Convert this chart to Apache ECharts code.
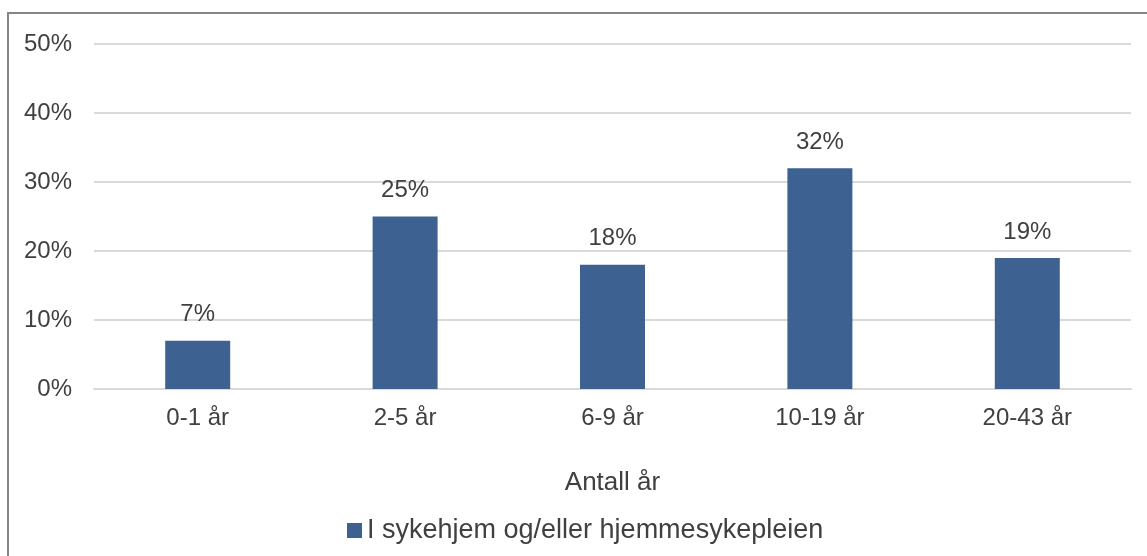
<!DOCTYPE html>
<html><head><meta charset="utf-8">
<script src="https://cdn.jsdelivr.net/npm/echarts@6/dist/echarts.min.js"></script>
<style>html,body{margin:0;padding:0;background:#fff}#c{width:1147px;height:556px}</style>
</head><body><div id="c"></div>
<script>
const categories = ['0-1 år', '2-5 år', '6-9 år', '10-19 år', '20-43 år'];
const values = [7, 25, 18, 32, 19];
const seriesName = 'I sykehjem og/eller hjemmesykepleien';
const axisName = 'Antall år';

const chart = echarts.init(document.getElementById('c'));
chart.setOption({
  animation: false,
  textStyle: { fontFamily: 'Liberation Sans, Arial, sans-serif' },
  graphic: [{
    type: 'rect', shape: { x: 8, y: 13, width: 1200, height: 600 },
    style: { fill: 'none', stroke: '#868686', lineWidth: 2 }, silent: true
  }],
  grid: { left: 94, right: 16, top: 44, bottom: 167 },
  legend: {
    data: [seriesName], left: 342, top: 512, itemWidth: 15, itemHeight: 15, itemGap: 6,
    icon: 'rect', textStyle: { fontSize: 27, color: '#404040', fontFamily: 'Liberation Sans, Arial, sans-serif' }
  },
  xAxis: {
    type: 'category', data: categories,
    name: axisName, nameLocation: 'middle', nameGap: 81,
    nameTextStyle: { fontSize: 26, color: '#404040' },
    axisLine: { show: true, lineStyle: { color: '#d9d9d9', width: 2 } },
    axisTick: { show: false },
    axisLabel: { fontSize: 24, color: '#404040', margin: 17 }
  },
  yAxis: {
    type: 'value', min: 0, max: 50, interval: 10,
    axisLabel: { formatter: '{value}%', fontSize: 24, color: '#404040', margin: 22 },
    axisLine: { show: false }, axisTick: { show: false },
    splitLine: { lineStyle: { color: '#d9d9d9', width: 2 } }
  },
  series: [{
    name: seriesName, type: 'bar', data: values, barWidth: 65,
    itemStyle: { color: '#3d6190' },
    label: { show: true, position: 'top', formatter: '{c}%', fontSize: 24, color: '#404040', distance: 14 }
  }]
});
</script></body></html>
